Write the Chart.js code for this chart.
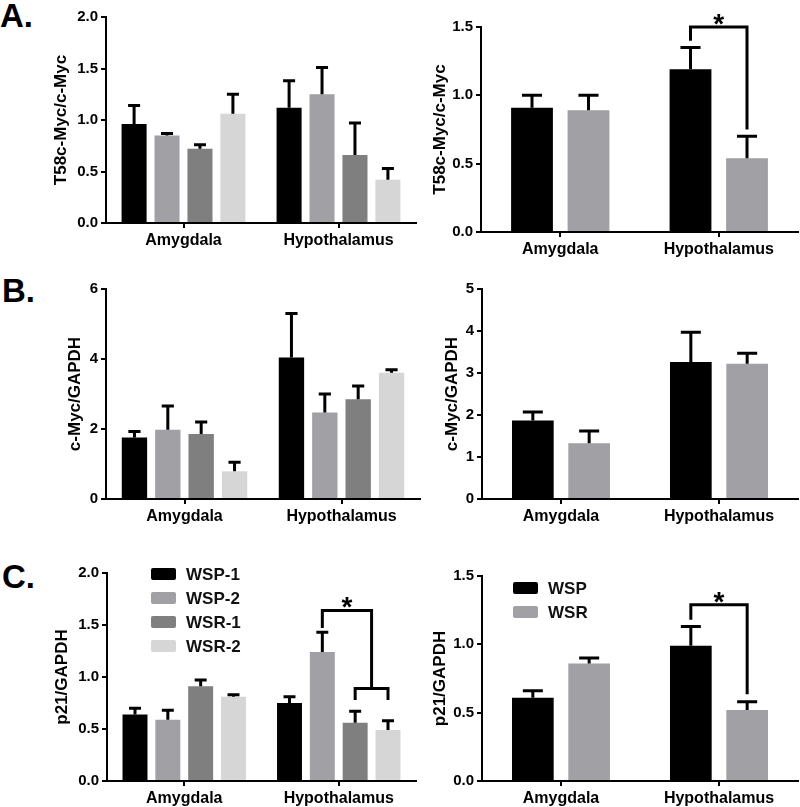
<!DOCTYPE html>
<html>
<head>
<meta charset="utf-8">
<script src="https://cdn.jsdelivr.net/npm/chart.js@4.4.1/dist/chart.umd.min.js"></script>
<style>
  body { margin: 0; background: #fff; }
  #page { position: relative; width: 800px; height: 807px; overflow: hidden; }
  canvas { position: absolute; }
  .tag { position: absolute; font: bold 33px "Liberation Sans", Arial, sans-serif; line-height: 33px; color: #000; }
</style>
</head>
<body>
<div id="page">
  <div class="tag" style="left:0px;top:-1px">A.</div>
  <div class="tag" style="left:2px;top:274px">B.</div>
  <div class="tag" style="left:2px;top:560px">C.</div>
  <canvas id="aLeft"></canvas>
  <canvas id="aRight"></canvas>
  <canvas id="bLeft"></canvas>
  <canvas id="bRight"></canvas>
  <canvas id="cLeft"></canvas>
  <canvas id="cRight"></canvas>
</div>
<script>
// categories and groups
const regions = ["Amygdala", "Hypothalamus"];
const groups4 = ["WSP-1", "WSP-2", "WSR-1", "WSR-2"];
const groups2 = ["WSP", "WSR"];
const colors4 = ["#000000", "#a0a0a5", "#7f7f7f", "#d6d6d6"];
const colors2 = ["#000000", "#a0a0a5"];

// A. T58c-Myc/c-Myc  (one row per group: [Amygdala, Hypothalamus])
const t58Mean4 = [[0.96, 1.12], [0.85, 1.25], [0.72, 0.66], [1.06, 0.42]];
const t58Sem4  = [[0.18, 0.26], [0.02, 0.26], [0.04, 0.31], [0.19, 0.11]];
const t58Mean2 = [[0.91, 1.19], [0.89, 0.54]];
const t58Sem2  = [[0.09, 0.16], [0.11, 0.16]];

// B. c-Myc/GAPDH
const mycMean4 = [[1.76, 4.04], [1.98, 2.47], [1.86, 2.85], [0.79, 3.61]];
const mycSem4  = [[0.17, 1.26], [0.68, 0.53], [0.34, 0.38], [0.26, 0.08]];
const mycMean2 = [[1.87, 3.26], [1.33, 3.22]];
const mycSem2  = [[0.20, 0.71], [0.29, 0.25]];

// C. p21/GAPDH
const p21Mean4 = [[0.64, 0.75], [0.59, 1.24], [0.91, 0.56], [0.81, 0.49]];
const p21Sem4  = [[0.06, 0.06], [0.09, 0.19], [0.06, 0.11], [0.02, 0.09]];
const p21Mean2 = [[0.61, 0.99], [0.86, 0.52]];
const p21Sem2  = [[0.05, 0.14], [0.04, 0.06]];

// significance brackets: category index, datasets under each leg, bar height and leg ends (data units)
const t58Brackets2 = [{ cat: 1, left: [0], right: [1], y: 1.5, leftEnd: 1.40, rightEnd: 0.75, star: true }];
const p21Brackets4 = [
  { cat: 1, left: [1], right: [2, 3], y: 1.64, leftEnd: 1.47, rightEnd: 0.89, star: true },
  { cat: 1, left: [2], right: [3], y: 0.89, leftEnd: 0.78, rightEnd: 0.78, star: false }
];
const p21Brackets2 = [{ cat: 1, left: [0], right: [1], y: 1.29, leftEnd: 1.18, rightEnd: 0.635, star: true }];

const FONT = '"Liberation Sans", Arial, sans-serif';
const TITLE_SIZE = 17;

const errorBarPlugin = {
  id: "errorBars",
  afterDatasetsDraw(chart) {
    const ctx = chart.ctx, y = chart.scales.y;
    ctx.save();
    ctx.strokeStyle = "#000";
    ctx.lineWidth = 3;
    chart.data.datasets.forEach((ds, i) => {
      chart.getDatasetMeta(i).data.forEach((bar, j) => {
        const top = y.getPixelForValue(ds.data[j] + ds.sem[j]);
        const half = bar.width * 0.24;
        ctx.beginPath();
        ctx.moveTo(bar.x, bar.y);
        ctx.lineTo(bar.x, top);
        ctx.moveTo(bar.x - half, top);
        ctx.lineTo(bar.x + half, top);
        ctx.stroke();
      });
    });
    ctx.restore();
  }
};

function legX(chart, cat, refs) {
  const xs = refs.map(i => chart.getDatasetMeta(i).data[cat].x);
  return xs.reduce((a, b) => a + b, 0) / xs.length;
}

const bracketPlugin = {
  id: "brackets",
  afterDatasetsDraw(chart, args, opts) {
    const items = opts.items || [];
    if (!items.length) return;
    const ctx = chart.ctx, y = chart.scales.y;
    ctx.save();
    ctx.strokeStyle = "#000";
    ctx.fillStyle = "#000";
    ctx.lineWidth = 3;
    ctx.lineJoin = "miter";
    items.forEach(b => {
      const xl = legX(chart, b.cat, b.left), xr = legX(chart, b.cat, b.right);
      const yb = y.getPixelForValue(b.y);
      ctx.beginPath();
      ctx.moveTo(xl, y.getPixelForValue(b.leftEnd));
      ctx.lineTo(xl, yb);
      ctx.lineTo(xr, yb);
      ctx.lineTo(xr, y.getPixelForValue(b.rightEnd));
      ctx.stroke();
      if (b.star) {
        ctx.font = "bold 28px " + FONT;
        ctx.textAlign = "center";
        ctx.textBaseline = "alphabetic";
        ctx.fillText("*", (xl + xr) / 2, yb + 6);
      }
    });
    ctx.restore();
  }
};

const boxLegendPlugin = {
  id: "boxLegend",
  afterDraw(chart, args, opts) {
    if (!opts.show) return;
    const ctx = chart.ctx, area = chart.chartArea;
    ctx.save();
    ctx.font = "bold 17px " + FONT;
    ctx.textAlign = "left";
    ctx.textBaseline = "middle";
    chart.data.datasets.forEach((ds, i) => {
      const cx = area.left + opts.dx, cy = area.top + opts.dy + i * 24;
      ctx.fillStyle = ds.backgroundColor;
      ctx.beginPath();
      ctx.roundRect(cx, cy - 6, 25, 12, 2);
      ctx.fill();
      ctx.fillStyle = "#111";
      ctx.fillText(ds.label, cx + 35, cy + 1);
    });
    ctx.restore();
  }
};

function makePanel(id, p) {
  const cv = document.getElementById(id);
  const [bx, by, bw, bh] = p.box;
  const [ax0, ay0, ax1, ay1] = p.area;
  cv.width = bw; cv.height = bh;
  cv.style.left = bx + "px"; cv.style.top = by + "px";
  const padLeft = p.titleX - (TITLE_SIZE * 0.6 + 4) - bx;
  const yW = ax0 - bx - padLeft;
  const xH = by + bh - ay1;
  const four = p.names.length === 4;

  new Chart(cv, {
    type: "bar",
    data: {
      labels: regions,
      datasets: p.names.map((n, i) => ({
        label: n,
        data: p.means[i],
        sem: p.sems[i],
        backgroundColor: p.colors[i],
        borderWidth: 0,
        categoryPercentage: four ? 0.85 : 0.713,
        barPercentage: four ? 0.76 : 0.74
      }))
    },
    options: {
      responsive: false,
      animation: false,
      events: [],
      layout: { padding: { left: padLeft, right: bx + bw - ax1, top: ay0 - by, bottom: 0 } },
      plugins: {
        legend: { display: false },
        tooltip: { enabled: false },
        brackets: { items: p.brackets || [] },
        boxLegend: p.legend || { show: false }
      },
      scales: {
        x: {
          grid: { offset: false, drawOnChartArea: false, color: "#000", lineWidth: 2, tickLength: 5 },
          border: { display: true, color: "#000", width: 2 },
          ticks: { color: "#000", padding: 3, font: { family: FONT, size: 16, weight: "bold" } },
          afterFit: s => { s.height = xH; }
        },
        y: {
          min: 0,
          max: p.max,
          grid: { drawOnChartArea: false, color: "#000", lineWidth: 2, tickLength: 5 },
          border: { display: true, color: "#000", width: 2 },
          ticks: {
            stepSize: p.step,
            color: "#000",
            padding: 3,
            font: { family: FONT, size: 15, weight: "bold" },
            callback: v => p.dec ? Number(v).toFixed(1) : v
          },
          title: { display: true, text: p.title, color: "#000", font: { family: FONT, size: TITLE_SIZE, weight: "bold" } },
          afterFit: s => { s.width = yW; }
        }
      }
    },
    plugins: [errorBarPlugin, bracketPlugin, boxLegendPlugin]
  });
}

makePanel("aLeft", {
  box: [0, 0, 430, 262], area: [106, 17, 416, 223], titleX: 61,
  names: groups4, colors: colors4, means: t58Mean4, sems: t58Sem4,
  max: 2, step: 0.5, dec: true, title: "T58c-Myc/c-Myc"
});
makePanel("aRight", {
  box: [400, 0, 400, 262], area: [481, 27, 798, 232], titleX: 440,
  names: groups2, colors: colors2, means: t58Mean2, sems: t58Sem2,
  max: 1.5, step: 0.5, dec: true, title: "T58c-Myc/c-Myc", brackets: t58Brackets2
});
makePanel("bLeft", {
  box: [0, 262, 430, 270], area: [106, 289, 420, 499], titleX: 75,
  names: groups4, colors: colors4, means: mycMean4, sems: mycSem4,
  max: 6, step: 2, dec: false, title: "c-Myc/GAPDH"
});
makePanel("bRight", {
  box: [400, 262, 400, 270], area: [482, 289, 798, 499], titleX: 452,
  names: groups2, colors: colors2, means: mycMean2, sems: mycSem2,
  max: 5, step: 1, dec: false, title: "c-Myc/GAPDH"
});
makePanel("cLeft", {
  box: [0, 540, 430, 267], area: [107, 573, 416, 781], titleX: 62,
  names: groups4, colors: colors4, means: p21Mean4, sems: p21Sem4,
  max: 2, step: 0.5, dec: true, title: "p21/GAPDH", brackets: p21Brackets4,
  legend: { show: true, dx: 44, dy: 1 }
});
makePanel("cRight", {
  box: [400, 540, 400, 267], area: [482, 576, 798, 781], titleX: 440,
  names: groups2, colors: colors2, means: p21Mean2, sems: p21Sem2,
  max: 1.5, step: 0.5, dec: true, title: "p21/GAPDH", brackets: p21Brackets2,
  legend: { show: true, dx: 31, dy: 12 }
});
</script>
</body>
</html>
